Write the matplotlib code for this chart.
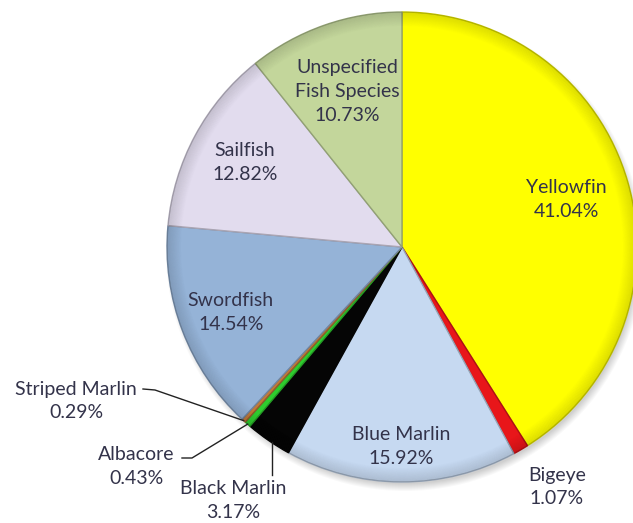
import numpy as np
import matplotlib
matplotlib.use("Agg")
import matplotlib.pyplot as plt
from matplotlib.patches import Wedge, Circle
from matplotlib.colors import to_rgb

# catch composition by species (%)
species = ["Yellowfin", "Bigeye", "Blue Marlin", "Black Marlin", "Albacore",
           "Striped Marlin", "Swordfish", "Sailfish", "Unspecified\nFish Species"]
shares = [41.04, 1.07, 15.92, 3.17, 0.43, 0.29, 14.54, 12.82, 10.73]
colors = ["#ffff00", "#e8161a", "#c6d9f1", "#050505", "#2ecc2e",
          "#c07a3a", "#95b3d7", "#e2dcee", "#c3d69b"]

W, H = 633, 523
fig = plt.figure(figsize=(W / 100, H / 100), dpi=100)
ax = fig.add_axes([0, 0, 1, 1])

cx, cy, R = 402, H - 247, 235


def darker(c, f=0.7):
    r, g, b = to_rgb(c)
    return (r * f, g * f, b * f)


# soft drop shadow
for i in range(8):
    ax.add_patch(Circle((cx + 3, cy - 5), R + 4 - i, color="k",
                        alpha=0.025, lw=0, zorder=0))

wedges, _ = ax.pie(shares, colors=colors, startangle=90, counterclock=False,
                   center=(cx, cy), radius=R, frame=True,
                   wedgeprops=dict(linewidth=1.0, zorder=2))
for w, c in zip(wedges, colors):
    w.set_edgecolor(darker(c, 0.75))

# darker rim for the bevelled look
for i in range(14):
    ax.add_patch(Wedge((cx, cy), R - i, 0, 360, width=1.2,
                       facecolor="k", alpha=0.11 * (1 - i / 14), lw=0, zorder=3))

txt = dict(fontsize=14, color="#33334a", ha="center", va="center",
           family=["Lato", "DejaVu Sans"], linespacing=1.5, zorder=5)

# mid angle of every slice
mids = []
for w in wedges:
    mids.append(np.deg2rad((w.theta1 + w.theta2) / 2))

# labels drawn inside their slice: (index, distance as fraction of R)
inside = {0: 0.73, 2: 0.85, 6: 0.78, 7: 0.76, 8: 0.70}
for i, d in inside.items():
    a = mids[i]
    ax.text(cx + d * R * np.cos(a), cy + d * R * np.sin(a),
            f"{species[i]}\n{shares[i]:.2f}%", **txt)

# labels outside the pie
ax.text(557, H - 487, f"{species[1]}\n{shares[1]:.2f}%", **txt)
ax.text(233, H - 501, f"{species[3]}\n{shares[3]:.2f}%", **txt)
ax.text(136, H - 466, f"{species[4]}\n{shares[4]:.2f}%", **txt)
ax.text(76, H - 401, f"{species[5]}\n{shares[5]:.2f}%", **txt)


def edge_point(i):
    a = mids[i]
    return cx + R * np.cos(a), cy + R * np.sin(a)


lk = dict(color="#222222", lw=1.0, zorder=4)
# leader lines for the small slices
px, py = edge_point(5)
ax.plot([143, 155, px], [H - 389, H - 390, py], **lk)
px, py = edge_point(4)
ax.plot([182, 192, px], [H - 458, H - 458, py], **lk)
px, py = edge_point(3)
ax.plot([px + 3, px + 3], [py - 2, H - 475], **lk)

ax.set_xlim(0, W)
ax.set_ylim(0, H)
ax.set_aspect("equal")
ax.axis("off")

fig.savefig("out.png", dpi=100, facecolor="white")
